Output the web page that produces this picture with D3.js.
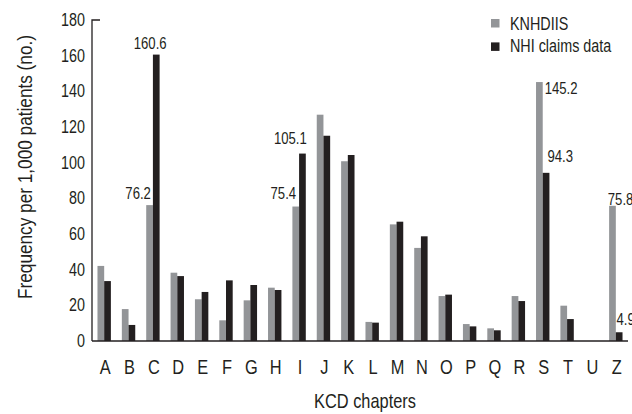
<!DOCTYPE html>
<html>
<head>
<meta charset="utf-8">
<script src="https://cdn.jsdelivr.net/npm/d3@7"></script>
<style>
  body { margin: 0; background: #fff; }
  svg { display: block; font-family: "Liberation Sans", Arial, sans-serif; }
</style>
</head>
<body>
<div id="chart"></div>
<script>
const chapters = ['A','B','C','D','E','F','G','H','I','J','K','L','M','N','O','P','Q','R','S','T','U','Z'];
const knhdiis = [42.1, 17.9, 76.2, 38.3, 23.4, 11.6, 22.8, 29.9, 75.4, 126.9, 100.8, 10.7, 65.4, 52.2, 25.2, 9.5, 7.1, 25.2, 145.2, 19.8, 0, 75.8];
const nhiClaims = [33.6, 9.0, 160.6, 36.4, 27.5, 34.0, 31.4, 28.6, 105.1, 115.1, 104.3, 10.3, 66.9, 58.7, 26.0, 8.2, 6.0, 22.4, 94.3, 12.3, 0, 4.9];
const yTicks = [0, 20, 40, 60, 80, 100, 120, 140, 160, 180];
const seriesNames = ['KNHDIIS', 'NHI claims data'];
// value labels shown on the chart: [chapter, series index]
const labelled = [['C', 0], ['C', 1], ['I', 0], ['I', 1], ['S', 0], ['S', 1], ['Z', 0], ['Z', 1]];

const w = 632, h = 414;
const colors = ['#939598', '#231f20'];
const K = 0.82; // horizontal squeeze to mimic the condensed face

// squeeze text horizontally, keeping its anchor point
function narrow(sel) {
    sel.each(function () {
        const t = d3.select(this);
        const xv = +t.attr('x') || 0;
        t.attr('x', xv / K)
            .attr('transform', (t.attr('transform') || '') + ` scale(${K},1)`);
    });
}

const svg = d3.select('#chart').append('svg')
    .attr('width', w)
    .attr('height', h);

const x = d3.scaleBand()
    .domain(chapters)
    .range([92, 628]);

const y = d3.scaleLinear()
    .domain([0, 180])
    .range([341, 20]);

const barW = 6.7;

// Y axis
const yAxis = svg.append('g')
    .attr('transform', 'translate(92,0)')
    .call(d3.axisLeft(y).tickValues(yTicks).tickSize(0).tickPadding(7));
yAxis.select('.domain').remove();
yAxis.selectAll('text')
    .attr('font-size', 17.5)
    .attr('font-family', null)
    .attr('fill', '#231f20')
    .call(narrow);

svg.append('path')
    .attr('d', `M${92 + 8},${y(180)}H92V${y(0)}`)
    .attr('fill', 'none')
    .attr('stroke', '#231f20')
    .attr('stroke-width', 1.3);

// Bars
const rows = chapters.map((c, i) => ({ c, v: [knhdiis[i], nhiClaims[i]] }));
const groups = svg.selectAll('.grp')
    .data(rows)
    .enter()
    .append('g')
    .attr('class', 'grp');

groups.selectAll('rect')
    .data(d => d.v.map((v, s) => ({ c: d.c, v, s })))
    .enter()
    .append('rect')
    .attr('x', d => x(d.c) + x.bandwidth() / 2 - barW + d.s * barW)
    .attr('y', d => y(d.v))
    .attr('width', barW)
    .attr('height', d => y(0) - y(d.v))
    .attr('fill', d => colors[d.s]);

// X axis
svg.append('path')
    .attr('d', `M92,${y(0)}H${x.range()[1]}`)
    .attr('stroke', '#231f20')
    .attr('stroke-width', 1.5);

svg.selectAll('.xlab')
    .data(chapters)
    .enter()
    .append('text')
    .attr('class', 'xlab')
    .attr('x', d => x(d) + x.bandwidth() / 2 + 1)
    .attr('y', 374)
    .attr('text-anchor', 'middle')
    .attr('font-size', 20)
    .attr('fill', '#231f20')
    .text(d => d)
    .call(narrow);

// Value labels
const place = {
    'C0': { dx: -2, dy: -6, anchor: 'end' },
    'C1': { dx: 7, dy: -6, anchor: 'end' },
    'I0': { dx: -3, dy: -8, anchor: 'end' },
    'I1': { dx: 1, dy: -10, anchor: 'end' },
    'S0': { dx: 2, dy: 12, anchor: 'start' },
    'S1': { dx: -2, dy: -11, anchor: 'start' },
    'Z0': { dx: -8, dy: -1, anchor: 'start' },
    'Z1': { dx: -6, dy: -7, anchor: 'start' }
};
svg.selectAll('.vlab')
    .data(labelled)
    .enter()
    .append('text')
    .attr('class', 'vlab')
    .attr('x', d => {
        const p = place[d[0] + d[1]];
        const barRight = x(d[0]) + x.bandwidth() / 2 + d[1] * barW;
        return barRight + p.dx;
    })
    .attr('y', d => {
        const i = chapters.indexOf(d[0]);
        const v = d[1] === 0 ? knhdiis[i] : nhiClaims[i];
        return y(v) + place[d[0] + d[1]].dy;
    })
    .attr('text-anchor', d => place[d[0] + d[1]].anchor)
    .attr('font-size', 16)
    .attr('fill', '#231f20')
    .text(d => {
        const i = chapters.indexOf(d[0]);
        return (d[1] === 0 ? knhdiis[i] : nhiClaims[i]).toFixed(1);
    })
    .call(narrow);

// Axis titles
svg.append('text')
    .attr('transform', 'translate(32,167) rotate(-90)')
    .attr('text-anchor', 'middle')
    .attr('font-size', 21)
    .attr('fill', '#231f20')
    .text('Frequency per 1,000 patients (no.)')
    .call(narrow);

svg.append('text')
    .attr('x', 365)
    .attr('y', 408)
    .attr('text-anchor', 'middle')
    .attr('font-size', 20)
    .attr('fill', '#231f20')
    .text('KCD chapters')
    .call(narrow);

// Legend
const legend = svg.append('g')
    .attr('transform', 'translate(491,19)');

seriesNames.forEach((name, i) => {
    legend.append('rect')
        .attr('x', 0)
        .attr('y', i * 23.4)
        .attr('width', 8.5)
        .attr('height', 8.5)
        .attr('fill', colors[i]);
    legend.append('text')
        .attr('x', 19)
        .attr('y', 11 + i * 22)
        .attr('font-size', 17.5)
        .attr('fill', '#231f20')
        .text(name)
        .call(narrow);
});
</script>
</body>
</html>
